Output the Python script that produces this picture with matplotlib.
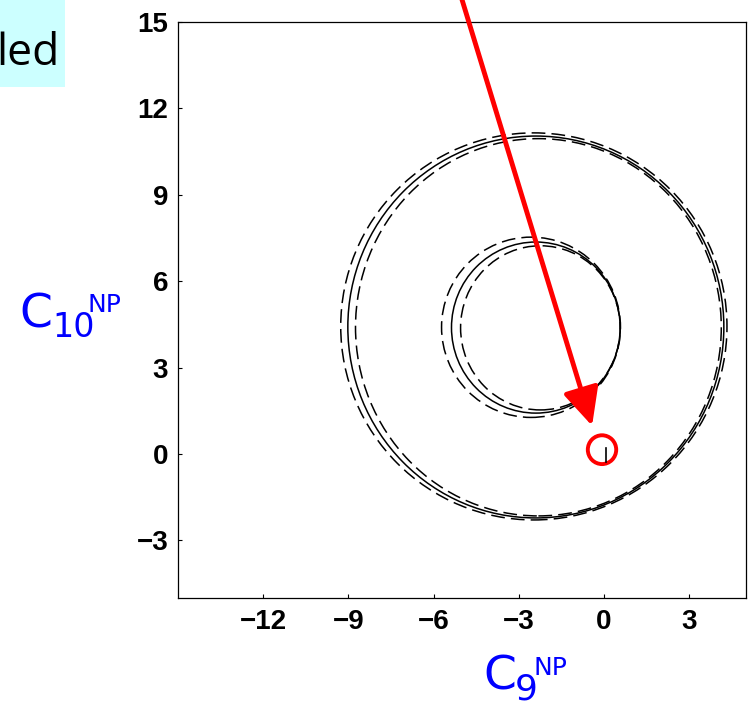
import matplotlib
matplotlib.use("Agg")
import matplotlib.pyplot as plt
from matplotlib.patches import Ellipse, Rectangle

# contour rings (solid, long-dash outer, long-dash inner)
ring_styles = ["solid", "dashed", "dashed"]
outer_cx = [-2.40, -2.47, -2.31]
outer_cy = [4.41, 4.43, 4.40]
outer_rx = [6.62, 6.80, 6.44]
outer_ry = [6.63, 6.72, 6.55]
inner_cx = [-2.40, -2.57, -2.24]
inner_cy = [4.39, 4.40, 4.38]
inner_rx = [2.97, 3.15, 2.81]
inner_ry = [2.97, 3.13, 2.85]

# SM point (small black bar) and red marker around it
sm_x = 0.07
sm_y = [-0.28, 0.21]
mark_center = (-0.07, 0.15)
mark_w, mark_h = 1.0, 1.0

# red arrow: tail above the plot, head near the SM point
arrow_tail = (-5.10, 16.10)
arrow_tip = (-0.42, 0.98)

xticks = [-12, -9, -6, -3, 0, 3]
yticks = [-3, 0, 3, 6, 9, 12, 15]

W, H = 748, 706
fig = plt.figure(figsize=(W / 100, H / 100), dpi=100)
ax = fig.add_axes([178 / W, 1 - 598 / H, (746 - 178) / W, (598 - 22) / H])
ax.set_xlim(-15, 5)
ax.set_ylim(-5, 15)

dash = (0, (9, 4))
for cx, cy, rx, ry, st in zip(outer_cx, outer_cy, outer_rx, outer_ry, ring_styles):
    ax.add_patch(Ellipse((cx, cy), 2 * rx, 2 * ry, fill=False, ec="black", lw=1.1,
                         ls="-" if st == "solid" else dash))
for cx, cy, rx, ry, st in zip(inner_cx, inner_cy, inner_rx, inner_ry, ring_styles):
    ax.add_patch(Ellipse((cx, cy), 2 * rx, 2 * ry, fill=False, ec="black", lw=1.1,
                         ls="-" if st == "solid" else dash))

ax.plot([sm_x, sm_x], sm_y, color="black", lw=1.2)
ax.add_patch(Ellipse(mark_center, mark_w, mark_h, fill=False, ec="red", lw=2.8))

ax.annotate("", xy=arrow_tip, xytext=arrow_tail, annotation_clip=False,
            arrowprops=dict(arrowstyle="-|>,head_length=1.15,head_width=0.55",
                            mutation_scale=20, color="red", lw=3.5,
                            shrinkA=0, shrinkB=0))

ax.set_xticks(xticks)
ax.set_yticks(yticks)
ax.tick_params(direction="in", length=3, width=0.8, labelsize=20)
ax.tick_params(axis="x", pad=8)
ax.tick_params(axis="y", pad=7)
for lab in ax.get_xticklabels() + ax.get_yticklabels():
    lab.set_fontfamily(["Liberation Sans", "DejaVu Sans"])
    lab.set_fontweight("bold")
for sp in ax.spines.values():
    sp.set_linewidth(0.9)

# axis labels built from pieces (subscript bigger than superscript, as on the slide)
def px(x, y):
    return x / W, 1 - y / H

blue = "#0000ff"
fig.text(*px(483, 690), "C", fontsize=34, color=blue, va="baseline")
fig.text(*px(515, 700), "9", fontsize=26, color=blue, va="baseline")
fig.text(*px(533, 675), "NP", fontsize=18, color=blue, va="baseline")

fig.text(*px(19, 328), "C", fontsize=34, color=blue, va="baseline")
fig.text(*px(52, 337), "10", fontsize=24, color=blue, va="baseline")
fig.text(*px(88, 312), "NP", fontsize=18, color=blue, va="baseline")

# piece of a slide box in the corner
fig.patches.append(Rectangle((0, 1 - 87 / H), 65 / W, 87 / H, transform=fig.transFigure,
                             fc="#ccffff", ec="none", zorder=0))
fig.text(*px(-4, 65), "led", fontsize=32, color="black", ha="left", va="baseline",
         family=["Open Sans", "DejaVu Sans"])

fig.savefig("out.png", dpi=100)
